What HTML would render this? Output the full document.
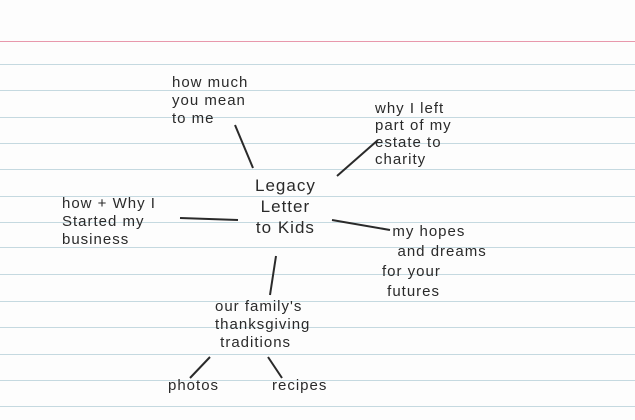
<!DOCTYPE html>
<html><head><style>
body{margin:0;width:635px;height:420px;background:#fdfdfd;position:relative;overflow:hidden;font-family:"Liberation Sans",sans-serif;color:#2a2a2a}
.l{position:absolute;left:0;width:635px;height:1px;background:#c5d9e0}
.t{position:absolute;font-size:15px;line-height:18px;letter-spacing:1px;white-space:nowrap}
</style></head><body>
<div class="l" style="top:41px;background:#e898ac"></div>
<div class="l" style="top:64px"></div><div class="l" style="top:90px"></div><div class="l" style="top:117px"></div><div class="l" style="top:143px"></div><div class="l" style="top:169px"></div><div class="l" style="top:196px"></div><div class="l" style="top:222px"></div><div class="l" style="top:247px"></div><div class="l" style="top:274px"></div><div class="l" style="top:301px"></div><div class="l" style="top:327px"></div><div class="l" style="top:354px"></div><div class="l" style="top:380px"></div><div class="l" style="top:406px"></div>
<div class="t" style="left:172px;top:74px">how much<br>you mean<br>to me</div>
<div class="t" style="left:375px;top:100px;line-height:17px">why I left<br>part of my<br>estate to<br>charity</div>
<div class="t" style="left:255px;top:175px;font-size:17px;line-height:21px;text-align:center">Legacy<br>Letter<br>to Kids</div>
<div class="t" style="left:62px;top:195px">how + Why I<br>Started my<br>business</div>
<div class="t" style="left:382px;top:222px;line-height:20px">&nbsp;&nbsp;my hopes<br>&nbsp;&nbsp;&nbsp;and dreams<br>for your<br>&nbsp;futures</div>
<div class="t" style="left:215px;top:298px;line-height:18px">our family's<br>thanksgiving<br>&nbsp;traditions</div>
<div class="t" style="left:168px;top:377px">photos</div>
<div class="t" style="left:272px;top:377px">recipes</div>
<svg width="635" height="420" style="position:absolute;left:0;top:0" stroke="#2a2a2a" stroke-width="2" fill="none">
<line x1="235" y1="125" x2="253" y2="168"/>
<line x1="337" y1="176" x2="378" y2="140"/>
<line x1="180" y1="218" x2="238" y2="220"/>
<line x1="332" y1="220" x2="390" y2="230"/>
<line x1="276" y1="256" x2="270" y2="295"/>
<line x1="210" y1="357" x2="190" y2="378"/>
<line x1="268" y1="357" x2="282" y2="378"/>
</svg>
</body></html>
